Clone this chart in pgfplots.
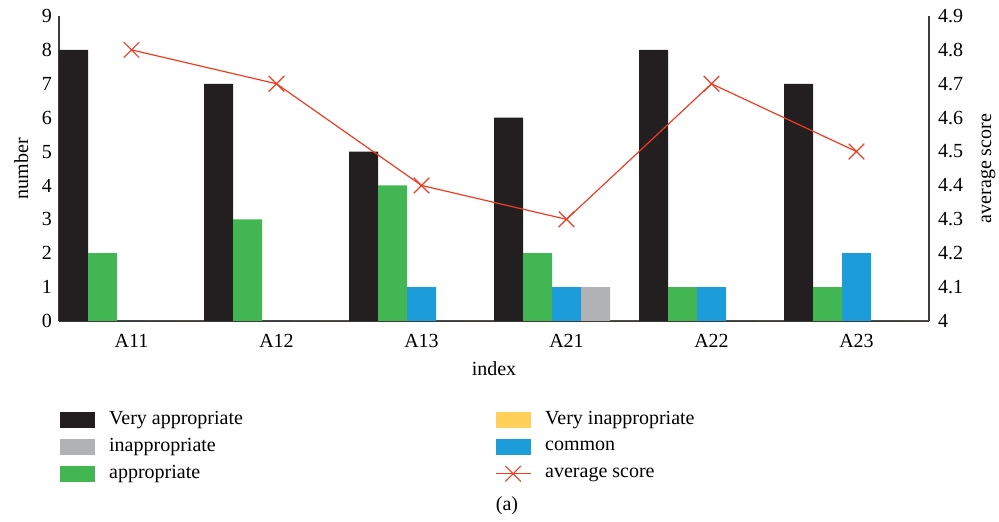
\documentclass[border=0pt]{standalone}
\usepackage{fontspec}
\setmainfont{Liberation Serif}
\usepackage{pgfplots}
\pgfplotsset{compat=1.18}
\definecolor{cblack}{HTML}{231F20}
\definecolor{cgreen}{HTML}{41B653}
\definecolor{cblue}{HTML}{1C9DD9}
\definecolor{cgray}{HTML}{B1B2B4}
\definecolor{cyellow}{HTML}{FED05A}
\definecolor{cred}{HTML}{EE3C23}
\definecolor{caxis}{HTML}{3C3C3C}
\pgfplotsset{
  barleg/.style={legend image code/.code={\fill[##1] (0pt,-4pt) rectangle (17.5pt,4pt);}},
  lineleg/.style={legend image code/.code={\draw[##1, mark repeat=2, mark phase=2] plot coordinates {(0pt,0pt) (8.75pt,0pt) (17.5pt,0pt)};}},
}
\begin{document}
\begin{tikzpicture}
\useasboundingbox (-29.5pt,-100.5pt) rectangle (470pt,160.5pt);
\begin{axis}[
  at={(0,0)}, anchor=south west, scale only axis,
  width=435pt, height=152.5pt,
  xmin=-0.5, xmax=5.5, ymin=0, ymax=9,
  axis x line*=bottom, axis y line*=left,
  axis line style={-, draw=caxis, line width=0.6pt},
  xtick={0,...,5}, xticklabels={A11,A12,A13,A21,A22,A23},
  ytick={0,...,9},
  major tick length=0pt,
  tick label style={font=\fontsize{10}{12}\selectfont},
  xticklabel style={yshift=-3pt},
  /pgf/number format/assume math mode=true,
  label style={font=\fontsize{10}{12}\selectfont},
  xlabel={index}, ylabel={number},
  legend columns=2,
  legend cell align=left,
  legend style={at={(-0.006,-0.27)}, anchor=north west, draw=none, fill=none,
    font=\fontsize{10}{12}\selectfont, row sep=1.35pt,
    /tikz/every even column/.append style={column sep=124pt},
    /tikz/every odd column/.append style={column sep=5pt}},
]
\addplot[ybar, bar width=0.2, bar shift=-0.4, fill=cblack, draw=none, barleg] coordinates {(0,8) (1,7) (2,5) (3,6) (4,8) (5,7)};
\addlegendentry{Very appropriate}
\addplot[ybar, bar width=0.2, bar shift=0.4, fill=cyellow, draw=none, barleg] coordinates {(0,0) (1,0) (2,0) (3,0) (4,0) (5,0)};
\addlegendentry{Very inappropriate}
\addplot[ybar, bar width=0.2, bar shift=0.2, fill=cgray, draw=none, barleg] coordinates {(0,0) (1,0) (2,0) (3,1) (4,0) (5,0)};
\addlegendentry{inappropriate}
\addplot[ybar, bar width=0.2, bar shift=0, fill=cblue, draw=none, barleg] coordinates {(0,0) (1,0) (2,1) (3,1) (4,1) (5,2)};
\addlegendentry{common}
\addplot[ybar, bar width=0.2, bar shift=-0.2, fill=cgreen, draw=none, barleg] coordinates {(0,2) (1,3) (2,4) (3,2) (4,1) (5,1)};
\addlegendentry{appropriate}
\addlegendimage{color=cred, line width=0.6pt, mark=x, mark size=5.5pt, lineleg}
\addlegendentry{average score}
\end{axis}
\begin{axis}[
  at={(0,0)}, anchor=south west, scale only axis,
  width=435pt, height=152.5pt,
  xmin=-0.5, xmax=5.5, ymin=4, ymax=4.9,
  axis x line=none, axis y line*=right,
  axis line style={-, draw=caxis, line width=0.6pt},
  ytick={4,4.1,4.2,4.3,4.4,4.5,4.6,4.7,4.8,4.9},
  yticklabels={4,4.1,4.2,4.3,4.4,4.5,4.6,4.7,4.8,4.9},
  major tick length=0pt,
  tick label style={font=\fontsize{10}{12}\selectfont},
  yticklabel style={xshift=1pt},
  label style={font=\fontsize{10}{12}\selectfont},
  ylabel style={yshift=-2pt},
  ylabel={average score},
]
\addplot[color=cred, line width=0.6pt, mark=x, mark size=5.5pt] coordinates {(0,4.8) (1,4.7) (2,4.4) (3,4.3) (4,4.7) (5,4.5)};
\end{axis}
\node[font=\fontsize{10}{12}\selectfont] at (224pt,-92.5pt) {(a)};
\end{tikzpicture}
\end{document}
